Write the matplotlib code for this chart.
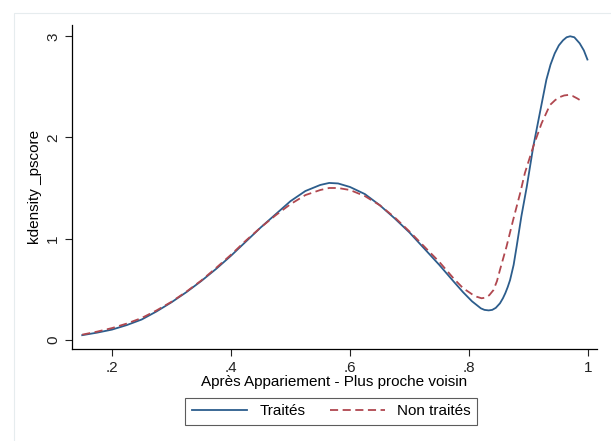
import numpy as np
import matplotlib
matplotlib.use("Agg")
import matplotlib.pyplot as plt
from matplotlib.patches import Rectangle

plt.rcParams['font.family'] = ['Liberation Sans', 'DejaVu Sans']

# densité du score de propension
x_traites = [0.15, 0.175, 0.2, 0.225, 0.25, 0.275, 0.3, 0.325, 0.35, 0.375,
             0.4, 0.425, 0.45, 0.475, 0.5, 0.525, 0.55, 0.565, 0.58, 0.6,
             0.625, 0.65, 0.675, 0.7, 0.725, 0.75, 0.775, 0.79, 0.805, 0.82,
             0.826, 0.833, 0.839, 0.845, 0.852, 0.857, 0.861, 0.865, 0.869,
             0.875, 0.88, 0.888, 0.897, 0.908, 0.919, 0.93, 0.937, 0.944,
             0.951, 0.958, 0.964, 0.97, 0.977, 0.986, 0.993, 0.999]
y_traites = [0.045, 0.07, 0.10, 0.145, 0.20, 0.28, 0.37, 0.47, 0.58, 0.70,
             0.83, 0.97, 1.11, 1.24, 1.37, 1.47, 1.53, 1.55, 1.545, 1.51,
             1.44, 1.33, 1.20, 1.06, 0.90, 0.74, 0.57, 0.47, 0.38, 0.31,
             0.295, 0.29, 0.295, 0.315, 0.36, 0.41, 0.46, 0.52, 0.59,
             0.74, 0.92, 1.22, 1.51, 1.91, 2.24, 2.57, 2.72, 2.83,
             2.91, 2.96, 2.99, 3.00, 2.99, 2.93, 2.86, 2.77]

x_non_traites = [0.15, 0.175, 0.2, 0.225, 0.25, 0.275, 0.3, 0.325, 0.35, 0.375,
                 0.4, 0.425, 0.45, 0.475, 0.5, 0.525, 0.55, 0.565, 0.58, 0.6,
                 0.625, 0.65, 0.675, 0.7, 0.725, 0.75, 0.775, 0.79, 0.805, 0.813,
                 0.821, 0.827, 0.834, 0.841, 0.847, 0.852, 0.863, 0.874, 0.886,
                 0.894, 0.908, 0.922, 0.936, 0.945, 0.953, 0.96, 0.967, 0.974,
                 0.982, 0.989]
y_non_traites = [0.05, 0.08, 0.115, 0.16, 0.215, 0.29, 0.375, 0.475, 0.585, 0.71,
                 0.84, 0.98, 1.11, 1.23, 1.34, 1.43, 1.48, 1.50, 1.50, 1.48,
                 1.42, 1.33, 1.21, 1.07, 0.92, 0.77, 0.60, 0.51, 0.45, 0.425,
                 0.41, 0.415, 0.44, 0.49, 0.58, 0.69, 0.92, 1.18, 1.45,
                 1.65, 1.91, 2.14, 2.32, 2.37, 2.40, 2.415, 2.42, 2.41,
                 2.385, 2.36]

x_ticks = [0.2, 0.4, 0.6, 0.8, 1.0]
x_labels = ['.2', '.4', '.6', '.8', '1']
y_ticks = [0, 1, 2, 3]

fig = plt.figure(figsize=(6.11, 4.41), dpi=100)
ax = fig.add_axes([0.118, 0.209, 0.859, 0.734])

# cadre très clair autour du graphique
fig.patches.append(Rectangle((14 / 611, -0.01), 1.0, 1 - 13 / 441 + 0.01,
                             transform=fig.transFigure, fill=False,
                             edgecolor='#e6ecee', linewidth=0.8))

ax.plot(x_traites, y_traites, color='#2c5d8c', linewidth=1.3, label='Traités')
ax.plot(x_non_traites, y_non_traites, color='#b0474f', linewidth=1.3,
        linestyle=(0, (4.5, 2.5)), label='Non traités')

ax.set_xlim(0.133, 1.015)
ax.set_ylim(-0.09, 3.11)
ax.set_xticks(x_ticks)
ax.set_xticklabels(x_labels)
ax.set_yticks(y_ticks)
for lab in ax.get_yticklabels():
    lab.set_rotation(90)
    lab.set_va('center')
ax.tick_params(direction='out', length=5, width=0.8, labelsize=11, colors='#222222')
ax.spines['top'].set_visible(False)
ax.spines['right'].set_visible(False)
ax.spines['left'].set_linewidth(0.9)
ax.spines['bottom'].set_linewidth(0.9)

ax.set_xlabel('Après Appariement - Plus proche voisin', fontsize=11, labelpad=0)
ax.set_ylabel('kdensity _pscore', fontsize=11, labelpad=3)

leg = fig.legend(loc='center', bbox_to_anchor=(0.542, 0.067), ncol=2,
                 fontsize=11, handlelength=3.6, handletextpad=0.8,
                 columnspacing=1.6, fancybox=False, edgecolor='#333333',
                 borderpad=0.45)
leg.get_frame().set_linewidth(0.8)

fig.savefig('out.png', dpi=100)
